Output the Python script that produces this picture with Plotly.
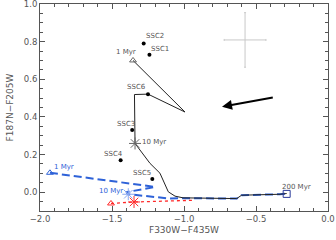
import plotly.graph_objects as go

# Observed clusters
ssc_names = ["SSC1", "SSC2", "SSC3", "SSC4", "SSC5", "SSC6"]
ssc_x = [-1.24, -1.28, -1.36, -1.44, -1.22, -1.25]
ssc_y = [0.73, 0.79, 0.33, 0.17, 0.07, 0.52]

# Model track (black, solid)
trk_k_x = [-1.354, -0.993, -1.25, -1.344, -1.340, -1.236, -1.167, -1.109, -1.0625, -1.007, -0.634, -0.60, -0.333, -0.287]
trk_k_y = [0.700, 0.426, 0.521, 0.519, 0.259, 0.153, 0.101, 0.002, -0.021, -0.030, -0.034, -0.016, -0.011, -0.007]

# Model track (blue, dashed)
trk_b_x = [-1.931, -1.201, -1.40, -1.387, -1.097, -1.007, -0.634, -0.60, -0.333, -0.287]
trk_b_y = [0.103, 0.028, 0.0, -0.011, -0.034, -0.032, -0.034, -0.016, -0.011, -0.007]

# Model track (red, dotted)
trk_r_x = [-1.507, -1.347, -0.924]
trk_r_y = [-0.060, -0.052, -0.043]

# Age markers
age_k_1 = (-1.354, 0.700)
age_k_10 = (-1.340, 0.259)
age_b_1 = (-1.931, 0.103)
age_b_10 = (-1.387, -0.011)
age_r_1 = (-1.507, -0.060)
age_r_10 = (-1.347, -0.052)
age_200 = (-0.287, -0.009)

# Typical error bar
err_x, err_y = -0.576, 0.809
err_dx, err_dy = 0.145, 0.145

# Extinction arrow
arrow_from = (-0.373, 0.505)
arrow_to = (-0.736, 0.454)

BLUE = "#2e62d8"
RED = "#ff2a2a"
TXT = "#555555"
FONT = "DejaVu Sans"

fig = go.Figure()

fig.add_trace(go.Scatter(x=[err_x], y=[err_y], mode="markers",
                         marker=dict(size=1, color="rgba(0,0,0,0)"),
                         error_x=dict(type="constant", value=err_dx, color="#c8c8c8", thickness=1, width=1),
                         error_y=dict(type="constant", value=err_dy, color="#c8c8c8", thickness=1, width=1),
                         hoverinfo="skip"))

fig.add_trace(go.Scatter(x=trk_b_x, y=trk_b_y, mode="lines",
                         line=dict(color=BLUE, width=2, dash="8px,4px")))
fig.add_trace(go.Scatter(x=trk_r_x, y=trk_r_y, mode="lines",
                         line=dict(color=RED, width=1.3, dash="dot")))
fig.add_trace(go.Scatter(x=trk_k_x, y=trk_k_y, mode="lines",
                         line=dict(color="#222222", width=1)))

# age markers
fig.add_trace(go.Scatter(x=[age_k_1[0]], y=[age_k_1[1]], mode="markers",
                         marker=dict(symbol="triangle-up-open", size=6, color="#666666", line=dict(width=1))))
fig.add_trace(go.Scatter(x=[age_k_10[0]], y=[age_k_10[1]], mode="markers",
                         marker=dict(symbol="asterisk-open", size=10, color="#666666", line=dict(width=1, color="#666666"))))
fig.add_trace(go.Scatter(x=[age_b_1[0]], y=[age_b_1[1]], mode="markers",
                         marker=dict(symbol="triangle-up-open", size=6, color=BLUE, line=dict(width=1))))
fig.add_trace(go.Scatter(x=[age_b_10[0]], y=[age_b_10[1]], mode="markers",
                         marker=dict(symbol="asterisk-open", size=10, color="#8aa8f0", line=dict(width=1, color="#8aa8f0"))))
fig.add_trace(go.Scatter(x=[age_r_1[0]], y=[age_r_1[1]], mode="markers",
                         marker=dict(symbol="triangle-up-open", size=6, color=RED, line=dict(width=1))))
fig.add_trace(go.Scatter(x=[age_r_10[0]], y=[age_r_10[1]], mode="markers",
                         marker=dict(symbol="asterisk-open", size=10, color=RED, line=dict(width=1, color=RED))))
fig.add_trace(go.Scatter(x=[age_200[0]], y=[age_200[1]], mode="markers",
                         marker=dict(symbol="square-open", size=7, color="#2a3a9a", line=dict(width=1))))

# clusters
fig.add_trace(go.Scatter(x=ssc_x, y=ssc_y, mode="markers",
                         marker=dict(symbol="circle", size=4, color="black")))

# (x, y, text, xanchor, xshift, yshift, color)
labels = [
    (ssc_x[0], ssc_y[0], ssc_names[0], "left", 0, 6, TXT),
    (ssc_x[1], ssc_y[1], ssc_names[1], "left", 0, 7.5, TXT),
    (ssc_x[2], ssc_y[2], ssc_names[2], "right", 5, 6, TXT),
    (ssc_x[3], ssc_y[3], ssc_names[3], "right", 4, 6, TXT),
    (ssc_x[4], ssc_y[4], ssc_names[4], "right", 1, 6, TXT),
    (ssc_x[5], ssc_y[5], ssc_names[5], "right", 0, 7, TXT),
    (age_k_1[0], age_k_1[1], "1 Myr", "right", 5, 8, TXT),
    (age_k_10[0], age_k_10[1], "10 Myr", "left", 5, 1.5, TXT),
    (age_b_1[0], age_b_1[1], "1 Myr", "left", 2, 6, BLUE),
    (age_b_10[0], age_b_10[1], "10 Myr", "right", -3, 3, BLUE),
    (age_200[0], age_200[1], "200 Myr", "left", -7, 7, TXT),
]
for x, y, t, xa, xs, ys, c in labels:
    fig.add_annotation(x=x, y=y, text=t, showarrow=False, xanchor=xa, yanchor="middle",
                       xshift=xs, yshift=ys, font=dict(family=FONT, size=7, color=c))

fig.add_annotation(x=arrow_to[0], y=arrow_to[1], ax=arrow_from[0], ay=arrow_from[1],
                   xref="x", yref="y", axref="x", ayref="y", text="", showarrow=True,
                   arrowhead=2, arrowsize=1, arrowwidth=2, arrowcolor="black")

axis_common = dict(showline=True, linecolor="#555555", linewidth=1, mirror="ticks",
                   ticks="inside", ticklen=5, tickcolor="#555555", tickwidth=1,
                   showgrid=False, zeroline=False, automargin=False,
                   ticklabeloverflow="allow",
                   tickfont=dict(family=FONT, size=8.5, color=TXT))

fig.update_xaxes(range=[-2.0, 0.0], dtick=0.5, tick0=-2.0, tickformat=".1f",
                 minor=dict(dtick=0.1, ticks="inside", ticklen=3, tickcolor="#555555", showgrid=False),
                 title=dict(text="F330W\u2212F435W", font=dict(family=FONT, size=9, color=TXT), standoff=3),
                 **axis_common)
fig.update_yaxes(range=[-0.1, 1.0], dtick=0.2, tick0=0.0, tickformat=".1f",
                 minor=dict(dtick=0.05, ticks="inside", ticklen=3, tickcolor="#555555", showgrid=False),
                 title=dict(text="F187N\u2212F205W", font=dict(family=FONT, size=9, color=TXT), standoff=8),
                 **axis_common)

fig.update_layout(width=336, height=240, margin=dict(l=40, r=8, t=4, b=29),
                  paper_bgcolor="white", plot_bgcolor="white", showlegend=False)

fig.write_html("out.html", config={"displayModeBar": False},
               post_script="document.body.style.margin='0px';document.body.style.overflow='hidden';")
